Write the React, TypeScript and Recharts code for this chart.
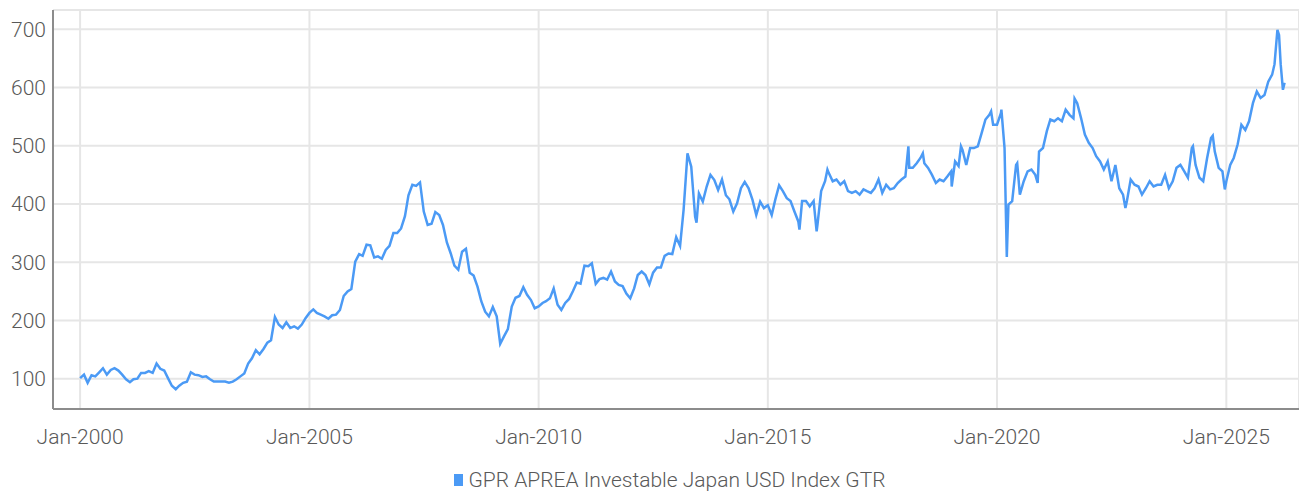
import { CartesianGrid, Legend, Line, LineChart, XAxis, YAxis } from "recharts";

const seriesName = "GPR APREA Investable Japan USD Index GTR";
const lineColor = "#4b9af5";
const textColor = "#595959";

// one reading per month, starting Jan of the first year in the name
const values2000to2004 = [
  101, 107, 93, 106, 104, 111, 118, 107, 115, 118, 114, 107,
  99, 94, 99, 100, 110, 110, 113, 110, 126, 117, 114, 101,
  88, 82, 88, 93, 95, 111, 107, 106, 103, 104, 99, 95,
  95, 95, 95, 93, 95, 99, 104, 109, 126, 135, 149, 142,
  151, 162, 166, 206, 193, 187, 197, 187, 190, 186, 193, 204,
];
const values2005to2009 = [
  213, 219, 213, 210, 207, 203, 209, 210, 218, 242, 250, 254,
  301, 314, 311, 330, 329, 308, 310, 306, 321, 328, 350, 350,
  358, 379, 415, 433, 431, 437, 387, 364, 366, 386, 381, 364,
  334, 315, 294, 287, 318, 323, 282, 277, 258, 233, 215, 207,
  223, 207, 160, 173, 185, 224, 239, 242, 257, 244, 235, 221,
];
const values2010to2014 = [
  224, 230, 233, 238, 255, 227, 218, 230, 237, 250, 265, 263,
  294, 293, 298, 263, 271, 273, 270, 284, 267, 261, 259, 246,
  238, 255, 278, 284, 278, 262, 282, 291, 291, 311, 315, 314,
  343, 328, 390, 487, 464, 378, 418, 404, 430, 450, 441, 424,
  442, 415, 408, 387, 401, 427, 438, 427, 407, 381, 404, 393,
];
const values2015to2019 = [
  398, 381, 407, 432, 422, 410, 405, 387, 370, 405, 405, 396,
  405, 365, 422, 439, 453, 439, 442, 433, 439, 422, 419, 422,
  416, 425, 422, 419, 427, 442, 419, 433, 425, 427, 436, 442,
  447, 462, 462, 470, 479, 470, 462, 450, 436, 442, 439, 447,
  456, 473, 465, 493, 467, 496, 496, 499, 522, 545, 553, 536,
];
const values2020to2024 = [
  536, 556, 496, 399, 405, 467, 416, 439, 456, 459, 450, 490,
  496, 525, 545, 542, 547, 542, 562, 553, 547, 573, 547, 519,
  505, 496, 482, 473, 459, 473, 439, 467, 427, 416, 405, 442,
  433, 430, 416, 427, 439, 430, 433, 433, 450, 427, 439, 462,
  467, 456, 445, 496, 467, 445, 439, 479, 513, 490, 462, 456,
];
const values2025to2026 = [
  439, 467, 479, 502, 536, 527, 542, 573, 593, 582, 587, 610,
  622,
];

// daily highs / lows that stick out between the monthly readings
const extraDates = [
  "2013-06-12", "2015-09-10", "2016-01-25", "2016-04-20", "2018-01-25",
  "2018-05-20", "2019-01-05", "2019-03-20", "2019-11-15", "2020-02-05",
  "2020-03-19", "2020-06-10", "2020-11-20", "2021-09-10", "2022-10-20",
  "2024-04-10", "2024-09-15", "2024-12-20", "2026-01-20", "2026-02-12",
  "2026-02-25", "2026-03-10", "2026-03-28", "2026-04-10",
];
const extraValues = [
  368, 356, 353, 459, 499,
  487, 430, 499, 559, 562,
  309, 470, 436, 581, 393,
  499, 517, 425, 640, 699,
  690, 640, 596, 608,
];

const tickYears = [2000, 2005, 2010, 2015, 2020, 2025];
const yTicks = [100, 200, 300, 400, 500, 600, 700];

const monthly = [
  ...values2000to2004,
  ...values2005to2009,
  ...values2010to2014,
  ...values2015to2019,
  ...values2020to2024,
  ...values2025to2026,
];

const toTime = (s: string) => {
  const [y, m, d] = s.split("-").map(Number);
  return Date.UTC(y, m - 1, d);
};

const data = [
  ...monthly.map((v, i) => ({ t: Date.UTC(2000, i, 1), value: v })),
  ...extraDates.map((d, i) => ({ t: toTime(d), value: extraValues[i] })),
].sort((a, b) => a.t - b.t);

const xTicks = tickYears.map((y) => Date.UTC(y, 0, 1));
const xDomain = [Date.UTC(1999, 4, 30), Date.UTC(2026, 7, 3)];

const fmtDate = (t: number) => `Jan-${new Date(t).getUTCFullYear()}`;

function LegendBox() {
  return (
    <div style={{ display: "flex", justifyContent: "center", alignItems: "center", height: 24 }}>
      <span style={{ width: 9, height: 12, background: lineColor, marginRight: 5, display: "inline-block" }} />
      <span style={{ fontSize: 21, color: textColor, fontWeight: 300 }}>{seriesName}</span>
    </div>
  );
}

export default function App() {
  return (
    <div style={{ position: "absolute", left: 0, top: 0, fontFamily: "Roboto, sans-serif", background: "#fff" }}>
      <LineChart width={1299} height={492} data={data} margin={{ top: 10, right: 0, left: 0, bottom: 0 }}>
        <CartesianGrid stroke="#e6e6e6" strokeWidth={2} />
        <XAxis
          dataKey="t"
          type="number"
          domain={xDomain}
          ticks={xTicks}
          tickFormatter={fmtDate}
          allowDataOverflow
          height={59}
          tickSize={0}
          tickMargin={20}
          tick={{ fill: textColor, fontSize: 21, fontWeight: 300 }}
          axisLine={{ stroke: "#8c8c8c", strokeWidth: 2 }}
        />
        <YAxis
          domain={[48, 733]}
          ticks={yTicks}
          allowDataOverflow
          width={53}
          tickSize={0}
          tickMargin={7}
          tick={{ fill: textColor, fontSize: 21, fontWeight: 300 }}
          axisLine={{ stroke: "#8c8c8c", strokeWidth: 2 }}
        />
        <Legend
          verticalAlign="bottom"
          content={() => <LegendBox />}
          wrapperStyle={{ left: 41, width: 1258 }}
        />
        <Line
          type="linear"
          dataKey="value"
          name={seriesName}
          stroke={lineColor}
          strokeWidth={2.5}
          dot={false}
          isAnimationActive={false}
        />
      </LineChart>
    </div>
  );
}
